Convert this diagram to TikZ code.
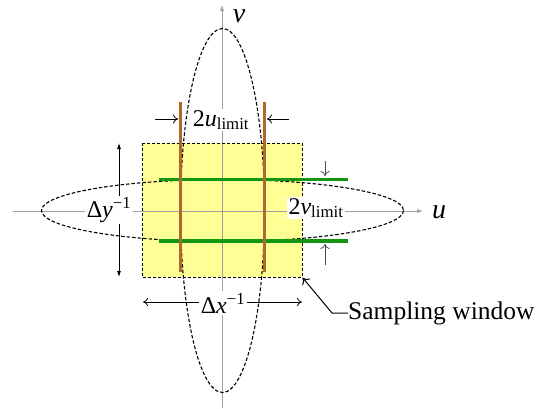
\documentclass[tikz,border=0pt]{standalone}
\usepackage{fontspec}
\setmainfont{Liberation Serif}
\usetikzlibrary{arrows.meta}
\definecolor{winyellow}{RGB}{255,255,150}
\definecolor{limgreen}{RGB}{20,150,20}
\definecolor{limbrown}{RGB}{175,105,45}
\tikzset{
  axisline/.style={draw=gray!75, line width=0.6pt},
  ell/.style={draw=black, dash pattern=on 3.5pt off 2pt, line width=1.1pt},
  lbl/.style={font=\fontsize{24}{28}\selectfont, inner sep=1.5pt},
  axlbl/.style={font=\fontsize{28}{30}\selectfont\itshape, inner sep=0pt},
  dimarrow/.style={draw=black, line width=0.8pt},
  glim/.style={draw=limgreen, line width=3.5pt},
  blim/.style={draw=limbrown, line width=3pt},
}
\begin{document}
\begin{tikzpicture}[x=1pt,y=-1pt]
\useasboundingbox (0,0) rectangle (536,408);
% sampling window fill
\fill[winyellow] (142,143) rectangle (302,277);
% axes
\coordinate (hl) at (13,211);
\coordinate (hr) at (423,211);
\coordinate (vb) at (222,408);
\coordinate (vt) at (222,5);
\draw[axisline,-{Latex[length=6pt,width=4pt]}] (hl) -- (hr);
\draw[axisline,-{Latex[length=6pt,width=4pt]}] (vb) -- (vt);
\node[axlbl] (ulab) at (439,212) {u};
\node[axlbl] (vlab) at (239,16) {v};
% ellipses
\coordinate (c) at (222.5,210.5);
\draw[ell] (c) ellipse [x radius=42, y radius=182];
\draw[ell] (c) ellipse [x radius=181, y radius=31];
% window border
\draw[dash pattern=on 3pt off 2pt, line width=1pt] (142,143) rectangle (302,277);
\node[inner sep=0pt] (win) at (302,277) {};
% green v limits
\coordinate (g1a) at (159,179.5);
\coordinate (g1b) at (348,179.5);
\coordinate (g2a) at (159,241);
\coordinate (g2b) at (348,241);
\draw[glim] (g1a) -- (g1b);
\draw[glim] (g2a) -- (g2b);
% brown u limits
\coordinate (b1a) at (180.5,102);
\coordinate (b1b) at (180.5,272);
\coordinate (b2a) at (264.5,102);
\coordinate (b2b) at (264.5,272);
\draw[blim] (b1a) -- (b1b);
\draw[blim] (b2a) -- (b2b);
% 2u arrows
\coordinate (ua1) at (155,119);
\coordinate (ua2) at (178,119);
\coordinate (ub1) at (289,119);
\coordinate (ub2) at (267,119);
\draw[dimarrow,-{To[length=5pt,width=9pt]}] (ua1) -- (ua2);
\draw[dimarrow,-{To[length=5pt,width=9pt]}] (ub1) -- (ub2);
\node[lbl, fill=white] (ulim) at (221,120) {2\textit{u}\textsubscript{limit}};
% 2v arrows
\coordinate (va1) at (325,161);
\coordinate (va2) at (325,176);
\coordinate (vb1) at (325,265);
\coordinate (vb2) at (325,244);
\draw[draw=gray!60!black, line width=0.8pt,-{To[length=5pt,width=9pt]}] (va1) -- (va2);
\draw[draw=gray!60!black, line width=0.8pt,-{To[length=5pt,width=9pt]}] (vb1) -- (vb2);
\node[lbl, fill=white] (vlim) at (316,208) {2\textit{v}\textsubscript{limit}};
% Delta y
\coordinate (dyT) at (119,143);
\coordinate (dyB) at (119,277);
\draw[dimarrow,{Latex[length=6pt,width=4pt]}-{Latex[length=6pt,width=4pt]}] (dyT) -- (dyB);
\node[lbl, fill=white] (dy) at (109,210) {Δ\textit{y}\textsuperscript{−1}};
% Delta x
\coordinate (dxL) at (143,302);
\coordinate (dxR) at (302,302);
\draw[dimarrow,{To[length=5pt,width=8pt]}-{To[length=5pt,width=8pt]}] (dxL) -- (dxR);
\node[lbl, fill=white] (dx) at (223,303) {Δ\textit{x}\textsuperscript{−1}};
% sampling window label
\node[font=\fontsize{25.5}{28}\selectfont, anchor=west, inner sep=0pt] (sw) at (348,313) {Sampling window};
\coordinate (bend) at (332,313);
\draw[line width=1pt,-{To[length=6pt,width=10pt]}] (sw.west) -- (bend) -- (win);
\end{tikzpicture}
\end{document}
